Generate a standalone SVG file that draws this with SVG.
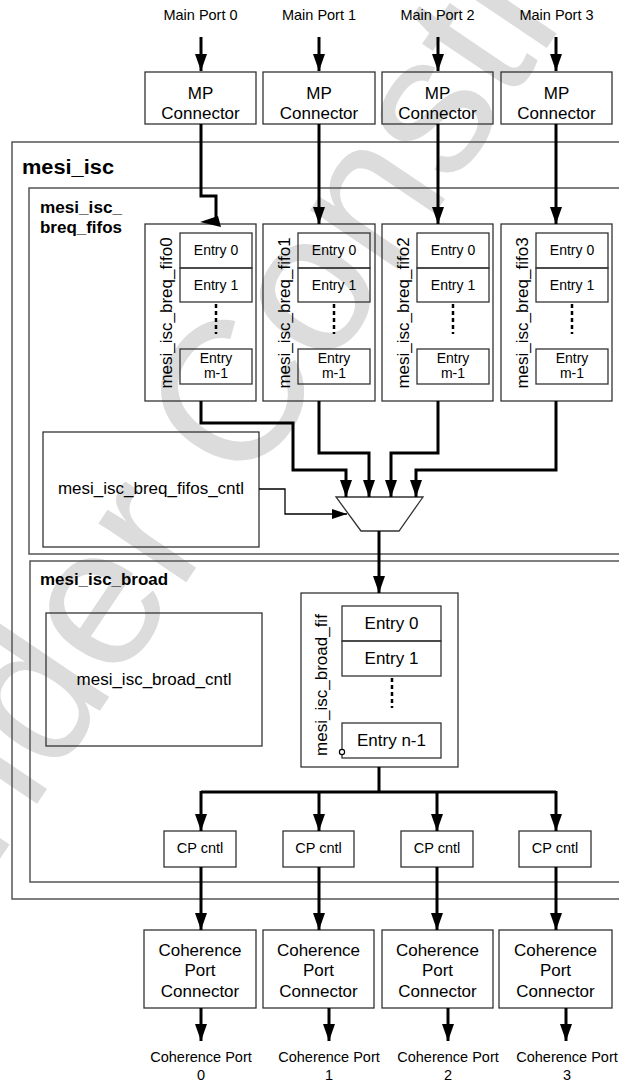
<svg xmlns="http://www.w3.org/2000/svg" width="619" height="1082" viewBox="0 0 619 1082">
<style>
.t{font-family:"Liberation Sans",Arial,sans-serif;fill:#000}
.b{font-family:"Liberation Sans",Arial,sans-serif;font-weight:bold;fill:#000}
.box{fill:none;stroke:#333;stroke-width:1.3}
.cont{fill:none;stroke:#555;stroke-width:1.5}
.thick{fill:none;stroke:#000;stroke-width:3}
.thin{fill:none;stroke:#000;stroke-width:1.3}
.dots{fill:none;stroke:#000;stroke-width:2.5;stroke-dasharray:4 3}
.wm{font-family:"Liberation Sans",Arial,sans-serif;fill:#dcdcdc}
</style>
<defs>
<marker id="ah" markerUnits="userSpaceOnUse" markerWidth="17" markerHeight="12" refX="17" refY="6" orient="auto">
<path d="M0,0 L17,6 L0,12 z" fill="#000"/>
</marker>
<marker id="ahs" markerUnits="userSpaceOnUse" markerWidth="15" markerHeight="10" refX="15" refY="5" orient="auto">
<path d="M0,0 L15,5 L0,10 z" fill="#000"/>
</marker>
</defs>
<rect width="619" height="1082" fill="#fff"/>
<g id="watermark">
<text class="wm" font-size="200" text-anchor="middle" transform="translate(393,276) rotate(-56)">Under Construction</text>
</g>

<g id="mesi_isc">
<rect class="cont" x="12" y="142" width="640" height="757"/>
<text class="b" x="22" y="174" font-size="20" textLength="92" lengthAdjust="spacingAndGlyphs">mesi_isc</text>
</g>
<g id="mesi_isc_breq_fifos">
<rect class="cont" x="29" y="188" width="620" height="366"/>
<text class="b" x="40" y="213" font-size="16" textLength="82" lengthAdjust="spacingAndGlyphs">mesi_isc_</text>
<text class="b" x="40" y="233" font-size="16" textLength="82" lengthAdjust="spacingAndGlyphs">breq_fifos</text>
</g>
<g id="mesi_isc_broad">
<rect class="cont" x="30" y="561" width="620" height="321"/>
<text class="b" x="40" y="585" font-size="16" textLength="128" lengthAdjust="spacingAndGlyphs">mesi_isc_broad</text>
</g>

<g id="main_ports" class="t" font-size="14.5" text-anchor="middle">
<text x="200.5" y="20">Main Port 0</text>
<text x="319" y="20">Main Port 1</text>
<text x="437.5" y="20">Main Port 2</text>
<text x="556.5" y="20">Main Port 3</text>
</g>

<g id="mp_connector0"><rect class="box" x="145" y="72" width="111" height="52"/><text class="t" font-size="17" text-anchor="middle" x="200.5" y="99">MP</text><text class="t" font-size="17" text-anchor="middle" x="200.5" y="119">Connector</text></g>
<g id="mp_connector1"><rect class="box" x="263" y="72" width="112" height="52"/><text class="t" font-size="17" text-anchor="middle" x="319" y="99">MP</text><text class="t" font-size="17" text-anchor="middle" x="319" y="119">Connector</text></g>
<g id="mp_connector2"><rect class="box" x="382" y="72" width="111" height="52"/><text class="t" font-size="17" text-anchor="middle" x="437.5" y="99">MP</text><text class="t" font-size="17" text-anchor="middle" x="437.5" y="119">Connector</text></g>
<g id="mp_connector3"><rect class="box" x="501" y="72" width="111" height="52"/><text class="t" font-size="17" text-anchor="middle" x="556.5" y="99">MP</text><text class="t" font-size="17" text-anchor="middle" x="556.5" y="119">Connector</text></g>

<g id="fifo0">
<rect class="box" x="145" y="224" width="111" height="177"/>
<rect class="box" x="180" y="233" width="72" height="35"/><rect class="box" x="180" y="268" width="72" height="34"/>
<line class="dots" x1="216" y1="304" x2="216" y2="334"/>
<rect class="box" x="180" y="349" width="72" height="35"/>
<g class="t" font-size="14" text-anchor="middle"><text x="216" y="255">Entry 0</text><text x="216" y="290">Entry 1</text><text x="216" y="363">Entry</text><text x="216" y="378">m-1</text></g>
<text class="t" font-size="17" text-anchor="middle" transform="translate(172,313) rotate(-90)">mesi_isc_breq_fifo0</text>
</g>
<g id="fifo1">
<rect class="box" x="263" y="224" width="112" height="177"/>
<rect class="box" x="298" y="233" width="72" height="35"/><rect class="box" x="298" y="268" width="72" height="34"/>
<line class="dots" x1="334" y1="304" x2="334" y2="334"/>
<rect class="box" x="298" y="349" width="72" height="35"/>
<g class="t" font-size="14" text-anchor="middle"><text x="334" y="255">Entry 0</text><text x="334" y="290">Entry 1</text><text x="334" y="363">Entry</text><text x="334" y="378">m-1</text></g>
<text class="t" font-size="17" text-anchor="middle" transform="translate(290,313) rotate(-90)">mesi_isc_breq_fifo1</text>
</g>
<g id="fifo2">
<rect class="box" x="382" y="224" width="111" height="177"/>
<rect class="box" x="417" y="233" width="72" height="35"/><rect class="box" x="417" y="268" width="72" height="34"/>
<line class="dots" x1="453" y1="304" x2="453" y2="334"/>
<rect class="box" x="417" y="349" width="72" height="35"/>
<g class="t" font-size="14" text-anchor="middle"><text x="453" y="255">Entry 0</text><text x="453" y="290">Entry 1</text><text x="453" y="363">Entry</text><text x="453" y="378">m-1</text></g>
<text class="t" font-size="17" text-anchor="middle" transform="translate(409,313) rotate(-90)">mesi_isc_breq_fifo2</text>
</g>
<g id="fifo3">
<rect class="box" x="501" y="224" width="111" height="177"/>
<rect class="box" x="536" y="233" width="72" height="35"/><rect class="box" x="536" y="268" width="72" height="34"/>
<line class="dots" x1="572" y1="304" x2="572" y2="334"/>
<rect class="box" x="536" y="349" width="72" height="35"/>
<g class="t" font-size="14" text-anchor="middle"><text x="572" y="255">Entry 0</text><text x="572" y="290">Entry 1</text><text x="572" y="363">Entry</text><text x="572" y="378">m-1</text></g>
<text class="t" font-size="17" text-anchor="middle" transform="translate(528,313) rotate(-90)">mesi_isc_breq_fifo3</text>
</g>

<g id="breq_fifos_cntl">
<rect class="box" x="43" y="432" width="216" height="115"/>
<text class="t" font-size="17" text-anchor="middle" x="151" y="494">mesi_isc_breq_fifos_cntl</text>
</g>
<g id="mux">
<polygon class="box" points="336,497 423,497 399,531 361,531"/>
</g>

<g id="broad_cntl">
<rect class="box" x="46" y="613" width="216" height="133"/>
<text class="t" font-size="17" text-anchor="middle" x="154" y="685">mesi_isc_broad_cntl</text>
</g>
<g id="broad_fifo">
<rect class="box" x="301" y="593" width="157" height="174"/>
<rect class="box" x="342" y="606" width="99" height="35"/><rect class="box" x="342" y="641" width="99" height="35"/>
<line class="dots" x1="392" y1="678" x2="392" y2="708"/>
<rect class="box" x="342" y="723" width="99" height="35"/>
<circle cx="342" cy="752" r="2.6" fill="#fff" stroke="#000" stroke-width="1.2"/>
<g class="t" font-size="17" text-anchor="middle"><text x="391.5" y="629">Entry 0</text><text x="391.5" y="664">Entry 1</text><text x="391.5" y="746">Entry n-1</text></g>
<text class="t" font-size="17" text-anchor="middle" transform="translate(327,685) rotate(-90)">mesi_isc_broad_fif</text>
</g>

<g id="cp_cntl0"><rect class="box" x="164" y="831" width="72" height="36"/><text class="t" font-size="14.5" text-anchor="middle" x="200" y="853">CP cntl</text></g>
<g id="cp_cntl1"><rect class="box" x="283" y="831" width="71" height="36"/><text class="t" font-size="14.5" text-anchor="middle" x="318.5" y="853">CP cntl</text></g>
<g id="cp_cntl2"><rect class="box" x="401" y="831" width="72" height="36"/><text class="t" font-size="14.5" text-anchor="middle" x="437" y="853">CP cntl</text></g>
<g id="cp_cntl3"><rect class="box" x="519" y="831" width="72" height="36"/><text class="t" font-size="14.5" text-anchor="middle" x="555" y="853">CP cntl</text></g>

<g id="cp_connector0"><rect class="box" x="144" y="930" width="112" height="78"/><g class="t" font-size="17" text-anchor="middle"><text x="200" y="956">Coherence</text><text x="200" y="976">Port</text><text x="200" y="997">Connector</text></g></g>
<g id="cp_connector1"><rect class="box" x="263" y="930" width="111" height="78"/><g class="t" font-size="17" text-anchor="middle"><text x="318.5" y="956">Coherence</text><text x="318.5" y="976">Port</text><text x="318.5" y="997">Connector</text></g></g>
<g id="cp_connector2"><rect class="box" x="382" y="930" width="111" height="78"/><g class="t" font-size="17" text-anchor="middle"><text x="437.5" y="956">Coherence</text><text x="437.5" y="976">Port</text><text x="437.5" y="997">Connector</text></g></g>
<g id="cp_connector3"><rect class="box" x="499" y="930" width="113" height="78"/><g class="t" font-size="17" text-anchor="middle"><text x="555.5" y="956">Coherence</text><text x="555.5" y="976">Port</text><text x="555.5" y="997">Connector</text></g></g>

<g id="coherence_ports" class="t" font-size="14.5" text-anchor="middle">
<text x="201" y="1062">Coherence Port</text><text x="201" y="1080">0</text>
<text x="329" y="1062">Coherence Port</text><text x="329" y="1080">1</text>
<text x="448" y="1062">Coherence Port</text><text x="448" y="1080">2</text>
<text x="567" y="1062">Coherence Port</text><text x="567" y="1080">3</text>
</g>

<g id="connectors">
<path class="thick" d="M201,37 V71" marker-end="url(#ah)"/>
<path class="thick" d="M319,37 V71" marker-end="url(#ah)"/>
<path class="thick" d="M438,37 V71" marker-end="url(#ah)"/>
<path class="thick" d="M556,37 V71" marker-end="url(#ah)"/>
<path class="thick" d="M201,124 V196 H216 V224"/>
<polygon points="200,222 218,216 221,227" fill="#000"/>
<path class="thick" d="M319,124 V224" marker-end="url(#ah)"/>
<path class="thick" d="M438,124 V224" marker-end="url(#ah)"/>
<path class="thick" d="M556,124 V224" marker-end="url(#ah)"/>
<path class="thick" d="M201,401 V423 H293 V470 H346 V497" marker-end="url(#ah)"/>
<path class="thick" d="M319,401 V453 H369 V497" marker-end="url(#ah)"/>
<path class="thick" d="M438,401 V453 H391 V497" marker-end="url(#ah)"/>
<path class="thick" d="M556,401 V470 H416 V497" marker-end="url(#ah)"/>
<path class="thin" d="M259,489 H285 V514 H347" marker-end="url(#ahs)"/>
<path class="thick" d="M379,531 V593" marker-end="url(#ah)"/>
<path class="thick" d="M379,767 V792"/>
<path class="thick" d="M201,792 H556"/>
<path class="thick" d="M201,791 V831" marker-end="url(#ah)"/>
<path class="thick" d="M319,792 V831" marker-end="url(#ah)"/>
<path class="thick" d="M437,792 V831" marker-end="url(#ah)"/>
<path class="thick" d="M556,791 V831" marker-end="url(#ah)"/>
<path class="thick" d="M201,867 V930" marker-end="url(#ah)"/>
<path class="thick" d="M319,867 V930" marker-end="url(#ah)"/>
<path class="thick" d="M437,867 V930" marker-end="url(#ah)"/>
<path class="thick" d="M556,867 V930" marker-end="url(#ah)"/>
<path class="thick" d="M201,1008 V1041" marker-end="url(#ah)"/>
<path class="thick" d="M329,1008 V1041" marker-end="url(#ah)"/>
<path class="thick" d="M448,1008 V1041" marker-end="url(#ah)"/>
<path class="thick" d="M566,1008 V1041" marker-end="url(#ah)"/>
</g>
</svg>
